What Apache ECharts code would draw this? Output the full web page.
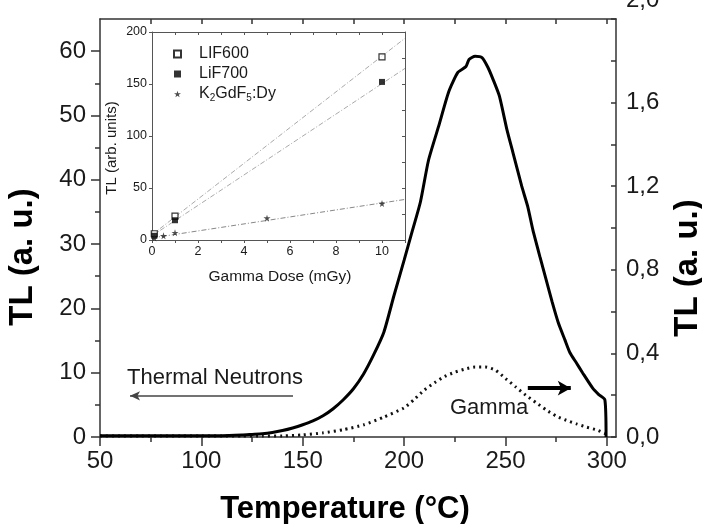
<!DOCTYPE html>
<html>
<head>
<meta charset="utf-8">
<script src="https://cdn.jsdelivr.net/npm/echarts@6/dist/echarts.min.js"></script>
<style>html,body{margin:0;padding:0;background:#fff}#c{width:702px;height:524px}</style>
</head>
<body>
<div id="c"></div>
<script>
// ---- Main chart data ----
const neutronTemp = [50,60,70,80,90,100,110,120,125,130,135,140,145,150,155,160,165,170,175,180,185,190,195,200,204,208,212,217,222,226.5,230.5,232,235,238.4,241.3,244,247,250.7,253.7,258,261,263.5,267,270,273,276,279.3,281.8,285,288,293,296,299,299.6];
const neutronTL   = [0.2,0.2,0.2,0.2,0.2,0.2,0.2,0.3,0.4,0.5,0.7,1.0,1.4,1.9,2.5,3.3,4.4,5.8,7.5,9.8,12.8,16.3,22,27.5,32,36.5,43,48.3,53.7,56.7,57.6,58.7,59.2,59.0,57.5,55.5,53,47.8,44.2,39,35.8,32.2,28,24.5,21,17.8,15.1,13.1,11.5,10,7.6,6.6,5.8,0];
const gammaTemp = [50,60,70,80,90,100,110,120,130,140,150,160,170,180,190,200,205,210,215,220,225,230,235,240,245,250,255,260,265,270,275,280,285,290,295,299.5];
const gammaTL   = [0.005,0.005,0.005,0.005,0.005,0.005,0.005,0.005,0.005,0.005,0.01,0.02,0.035,0.058,0.095,0.14,0.18,0.225,0.26,0.29,0.31,0.325,0.335,0.335,0.32,0.28,0.24,0.2,0.165,0.13,0.1,0.08,0.063,0.047,0.034,0.015];
const tempTicks = [50,100,150,200,250,300];
const tempMinor = [75,125,175,225,275];
const tempTop = [75,100,125,150,175,200,225,250,275,300];
const leftTicks = [0,10,20,30,40,50,60];
const leftMinor = [5,15,25,35,45,55];
const rightTicks = [0,0.4,0.8,1.2,1.6,2.0];
const rightAll = [0,0.2,0.4,0.6,0.8,1.0,1.2,1.4,1.6,1.8,2.0];
// annotation arrows (data coords)
const neutronArrow = [[145.2,6.4],[64.8,6.4]];
const gammaArrow = [[261,7.6],[282.2,7.6]];

// ---- Inset data ----
const doseLiF600 = [0.1,1,10];
const tlLiF600   = [6,23,176];
const doseLiF700 = [0.1,1,10];
const tlLiF700   = [4,19,152];
const doseK2     = [0.1,0.5,1,5,10];
const tlK2       = [2,4,7,21,35];
const fitDose    = [0,11];
const fitLiF600  = [5,194];
const fitLiF700  = [4,165];
const fitK2      = [2,39];
const insetXTicks = [0,2,4,6,8,10];
const insetXAll = [0,1,2,3,4,5,6,7,8,9,10,11];
const insetYTicks = [0,50,100,150,200];
const insetYAll = [0,25,50,75,100,125,150,175,200];

const zip = (a,b) => a.map((v,i)=>[v,b[i]]);
const FONT = '"Liberation Sans", Arial, sans-serif';
const TXT = '#1a1a1a';
const starPath = 'path://M50,0 L61,35 L98,35 L68,57 L79,91 L50,70 L21,91 L32,57 L2,35 L39,35 Z';

const chart = echarts.init(document.getElementById('c'), null, {renderer:'canvas'});
const noSplit = {show:false};
const option = {
  animation: false,
  backgroundColor: '#fff',
  textStyle: {fontFamily: FONT},
  grid: [
    {left:100, top:19, width:516, height:418, outerBoundsMode:'none', containLabel:false},
    {left:152, top:32, width:253, height:208, outerBoundsMode:'none', containLabel:false}
  ],
  xAxis: [
    {gridIndex:0, type:'value', position:'bottom', min:50, max:304.5,
     axisLine:{show:true, onZero:false, lineStyle:{color:'#333', width:1.5}},
     axisTick:{show:true, inside:false, length:9, customValues:tempTicks, lineStyle:{color:'#333', width:1.5}},
     axisLabel:{show:true, customValues:tempTicks, fontSize:24, color:TXT, margin:12, fontFamily:FONT},
     splitLine:noSplit},
    {gridIndex:0, type:'value', position:'bottom', min:50, max:304.5,
     axisLine:{show:false},
     axisTick:{show:true, inside:false, length:5, customValues:tempMinor, lineStyle:{color:'#333', width:1.5}},
     axisLabel:{show:false}, splitLine:noSplit},
    {gridIndex:0, type:'value', position:'top', min:50, max:304.5,
     axisLine:{show:true, onZero:false, lineStyle:{color:'#333', width:1.5}},
     axisTick:{show:true, inside:true, length:5, customValues:tempTop, lineStyle:{color:'#333', width:1.5}},
     axisLabel:{show:false}, splitLine:noSplit},
    {gridIndex:1, type:'value', position:'bottom', min:0, max:11,
     axisLine:{show:true, onZero:false, lineStyle:{color:'#555', width:1}},
     axisTick:{show:true, inside:false, length:3, customValues:insetXAll, lineStyle:{color:'#555'}},
     axisLabel:{show:true, customValues:insetXTicks, fontSize:12.5, color:TXT, margin:5, fontFamily:FONT},
     splitLine:noSplit},
    {gridIndex:1, type:'value', position:'top', min:0, max:11,
     axisLine:{show:true, onZero:false, lineStyle:{color:'#555', width:1}},
     axisTick:{show:true, inside:true, length:3, customValues:insetXAll, lineStyle:{color:'#555'}},
     axisLabel:{show:false}, splitLine:noSplit}
  ],
  yAxis: [
    {gridIndex:0, type:'value', position:'left', min:0, max:65,
     axisLine:{show:true, onZero:false, lineStyle:{color:'#333', width:1.5}},
     axisTick:{show:true, inside:false, length:9, customValues:leftTicks, lineStyle:{color:'#333', width:1.5}},
     axisLabel:{show:true, customValues:leftTicks, fontSize:24, color:TXT, margin:14, fontFamily:FONT},
     splitLine:noSplit},
    {gridIndex:0, type:'value', position:'left', min:0, max:65,
     axisLine:{show:false},
     axisTick:{show:true, inside:false, length:5, customValues:leftMinor, lineStyle:{color:'#333', width:1.5}},
     axisLabel:{show:false}, splitLine:noSplit},
    {gridIndex:0, type:'value', position:'right', min:0, max:2,
     axisLine:{show:true, onZero:false, lineStyle:{color:'#333', width:1.5}},
     axisTick:{show:true, inside:true, length:5, customValues:rightAll, lineStyle:{color:'#333', width:1.5}},
     axisLabel:{show:true, customValues:rightTicks, fontSize:24, lineHeight:38, color:TXT, margin:10, fontFamily:FONT,
       formatter: function(v){ const s = v.toFixed(1).replace('.', ','); return v > 1.99 ? s + '\n' : s; }},
     splitLine:noSplit},
    {gridIndex:1, type:'value', position:'left', min:0, max:200,
     axisLine:{show:true, onZero:false, lineStyle:{color:'#555', width:1}},
     axisTick:{show:true, inside:false, length:3, customValues:insetYTicks, lineStyle:{color:'#555'}},
     axisLabel:{show:true, customValues:insetYTicks, fontSize:12.5, color:TXT, margin:5, fontFamily:FONT},
     splitLine:noSplit},
    {gridIndex:1, type:'value', position:'right', min:0, max:200,
     axisLine:{show:true, onZero:false, lineStyle:{color:'#555', width:1}},
     axisTick:{show:true, inside:true, length:3, customValues:insetYAll, lineStyle:{color:'#555'}},
     axisLabel:{show:false}, splitLine:noSplit}
  ],
  legend: {
    show:true, orient:'vertical', left:173, top:46, padding:0,
    itemWidth:7, itemHeight:7, itemGap:4, symbolKeepAspect:true,
    data:['LIF600','LiF700','K2GdF5:Dy'],
    textStyle:{fontSize:16, color:TXT, fontFamily:FONT, padding:[0,0,0,13],
      rich:{sub:{fontSize:10, color:TXT, fontFamily:FONT, verticalAlign:'bottom', padding:[8,0,0,0]}}},
    formatter: function(n){ return n === 'K2GdF5:Dy' ? 'K{sub|2}GdF{sub|5}:Dy' : n; },
    selectedMode:false
  },
  series: [
    {name:'Neutrons', type:'line', xAxisIndex:0, yAxisIndex:0, data:zip(neutronTemp, neutronTL),
     showSymbol:false, smooth:0.2, z:5,
     lineStyle:{color:'#000', width:3},
     markLine:{silent:true, animation:false, label:{show:false},
       data:[
         [{coord:neutronArrow[0], symbol:'none', lineStyle:{color:'#444', width:1.5, type:'solid'}},
          {coord:neutronArrow[1], symbol:'arrow', symbolSize:[7,10], lineStyle:{color:'#444', width:1.5, type:'solid'}}],
         [{coord:gammaArrow[0], symbol:'none', lineStyle:{color:'#000', width:4, type:'solid'}},
          {coord:gammaArrow[1], symbol:'arrow', symbolSize:[11,13], lineStyle:{color:'#000', width:4, type:'solid'}}]
       ]}},
    {name:'Gamma', type:'line', xAxisIndex:0, yAxisIndex:2, data:zip(gammaTemp, gammaTL),
     showSymbol:false, smooth:0.2, z:4,
     lineStyle:{color:'#111', width:3, type:[2,4]}},
    {name:'fit600', type:'line', xAxisIndex:3, yAxisIndex:3, data:zip(fitDose, fitLiF600), showSymbol:false,
     lineStyle:{color:'#aaa', width:1, type:[5,2,1,2]}},
    {name:'fit700', type:'line', xAxisIndex:3, yAxisIndex:3, data:zip(fitDose, fitLiF700), showSymbol:false,
     lineStyle:{color:'#aaa', width:1, type:[5,2,1,2]}},
    {name:'fitK2', type:'line', xAxisIndex:3, yAxisIndex:3, data:zip(fitDose, fitK2), showSymbol:false,
     lineStyle:{color:'#888', width:1, type:[5,2,1,2]}},
    {name:'LIF600', type:'scatter', xAxisIndex:3, yAxisIndex:3, data:zip(doseLiF600, tlLiF600),
     symbol:'rect', symbolSize:6, z:6, itemStyle:{color:'#fff', borderColor:'#000', borderWidth:1.2}},
    {name:'LiF700', type:'scatter', xAxisIndex:3, yAxisIndex:3, data:zip(doseLiF700, tlLiF700),
     symbol:'rect', symbolSize:6, z:6, itemStyle:{color:'#000'}},
    {name:'K2GdF5:Dy', type:'scatter', xAxisIndex:3, yAxisIndex:3, data:zip(doseK2, tlK2),
     symbol:starPath, symbolSize:7, z:6, itemStyle:{color:'#222'}}
  ],
  graphic: [
    {type:'text', x:23, y:257, rotation:Math.PI/2,
     style:{text:'TL (a. u.)', font:'bold 33px ' + FONT, fill:'#000', align:'center', verticalAlign:'middle'}},
    {type:'text', x:688, y:268, rotation:Math.PI/2,
     style:{text:'TL (a. u.)', font:'bold 33px ' + FONT, fill:'#000', align:'center', verticalAlign:'middle'}},
    {type:'text', x:345, y:509,
     style:{text:'Temperature (°C)', font:'bold 31px ' + FONT, fill:'#000', align:'center', verticalAlign:'middle'}},
    {type:'text', x:112, y:148, rotation:Math.PI/2,
     style:{text:'TL (arb. units)', font:'15px ' + FONT, fill:TXT, align:'center', verticalAlign:'middle'}},
    {type:'text', x:280, y:277,
     style:{text:'Gamma Dose (mGy)', font:'15.5px ' + FONT, fill:TXT, align:'center', verticalAlign:'middle'}},
    {type:'text', x:127, y:378,
     style:{text:'Thermal Neutrons', font:'22px ' + FONT, fill:TXT, align:'left', verticalAlign:'middle'}},
    {type:'text', x:450, y:408,
     style:{text:'Gamma', font:'22px ' + FONT, fill:TXT, align:'left', verticalAlign:'middle'}}
  ]
};
chart.setOption(option);
</script>
</body>
</html>
